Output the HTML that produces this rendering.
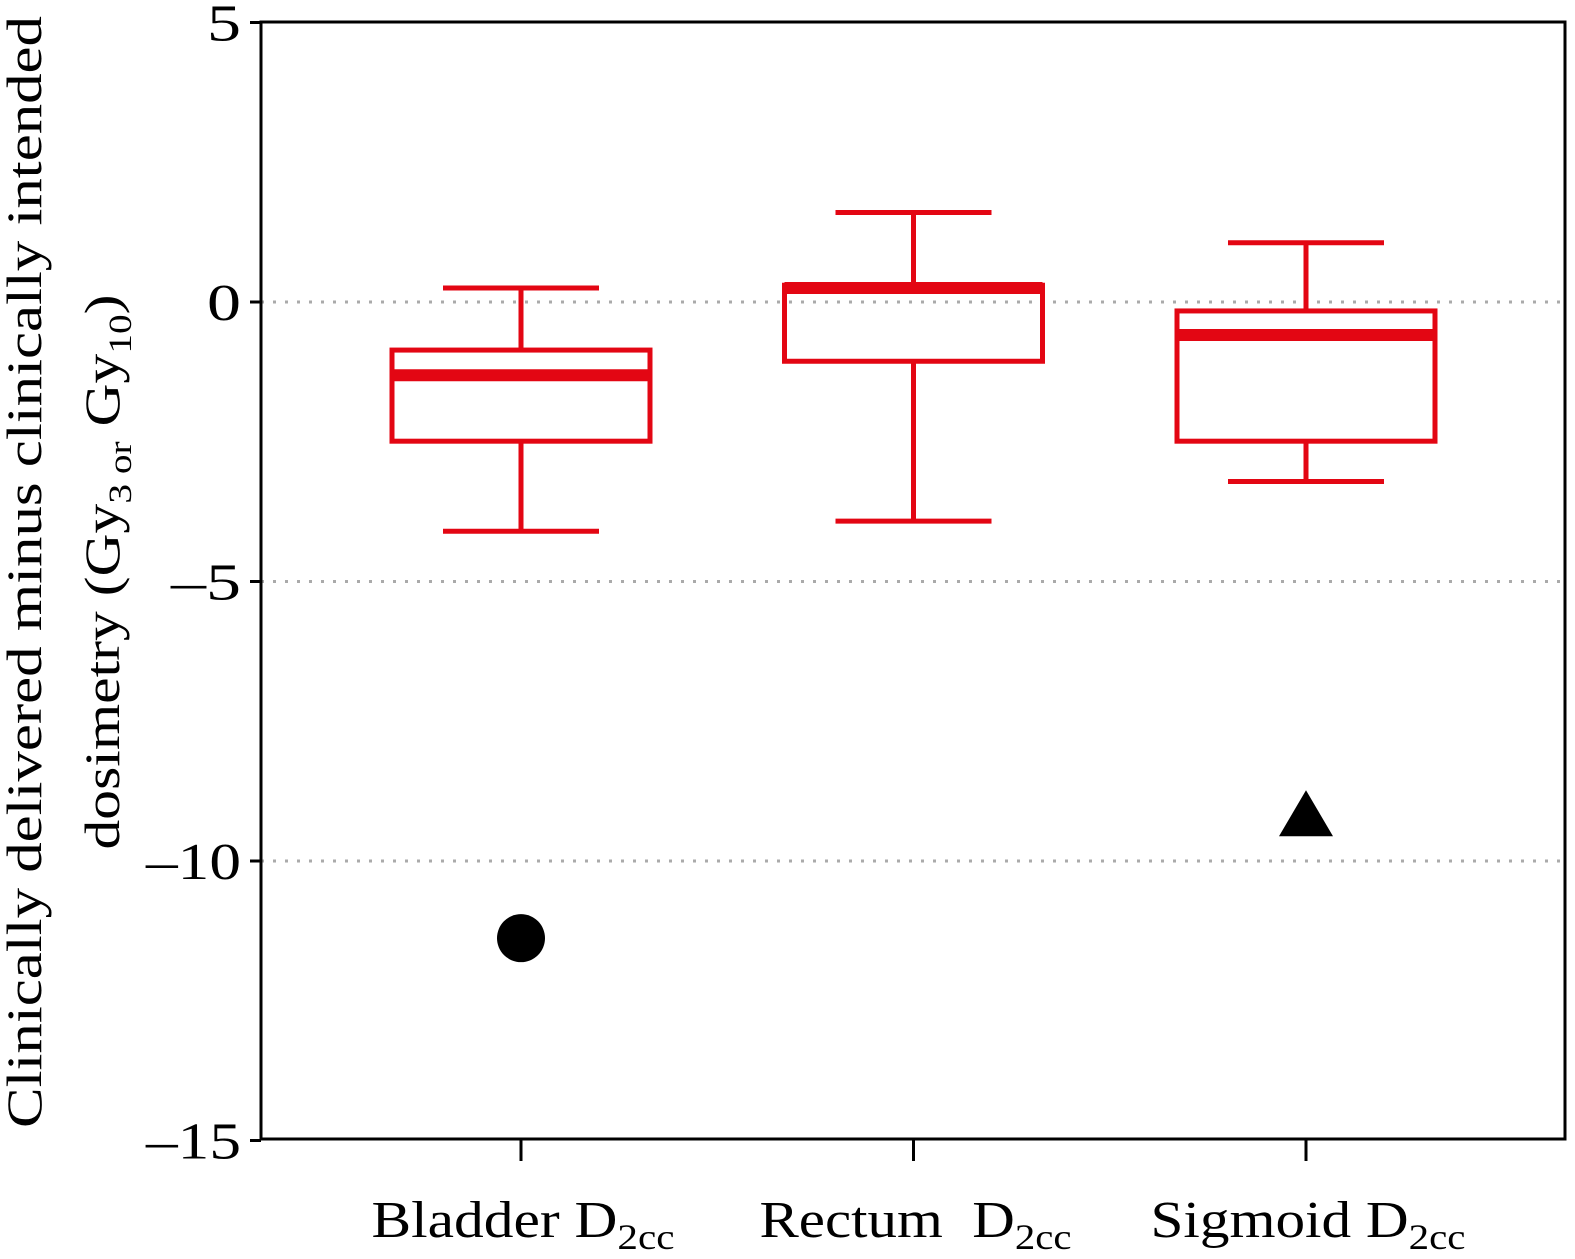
<!DOCTYPE html>
<html><head><meta charset="utf-8"><style>
body{margin:0;background:#fff}
svg{display:block;font-family:"Liberation Serif",serif}
</style></head><body>
<svg width="1575" height="1259" viewBox="0 0 1575 1259">
<g id="grid"></g>
<g id="boxes"></g>
<g id="axes"></g>
<text transform="translate(41,572) rotate(-90)" text-anchor="middle" font-size="50" textLength="1112" lengthAdjust="spacingAndGlyphs">Clinically delivered minus clinically intended</text>
<text transform="translate(119,572) rotate(-90)" text-anchor="middle" font-size="50" textLength="555" lengthAdjust="spacingAndGlyphs">dosimetry (Gy<tspan font-size="33" dy="12">3 or</tspan><tspan dy="-12"> Gy</tspan><tspan font-size="33" dy="12">10</tspan><tspan dy="-12">)</tspan></text>
</svg>
<script>
const categories=["Bladder","Rectum","Sigmoid"];
const whiskerHigh=[0.25,1.6,1.06];
const q3=[-0.86,0.3,-0.16];
const median=[-1.31,0.25,-0.59];
const q1=[-2.49,-1.06,-2.49];
const whiskerLow=[-4.1,-3.92,-3.21];
const outliers=[-11.38,null,-9.2];
const outlierShapes=["circle",null,"triangle"];
const yTicks=[5,0,-5,-10,-15];
const gridVals=[0,-5,-10];

const NS="http://www.w3.org/2000/svg";
const L=261,R=1565,T=22,B=1139;
const y=v=>302-v*55.9;
const xc=i=>521+i*392.5;
function mk(tag,attrs,parent){const e=document.createElementNS(NS,tag);for(const k in attrs)e.setAttribute(k,attrs[k]);parent.appendChild(e);return e;}
const grid=document.getElementById('grid'),boxes=document.getElementById('boxes'),axes=document.getElementById('axes');
gridVals.forEach(v=>{const e=mk('line',{x1:L,x2:R,y1:y(v),y2:y(v),stroke:'#aaa','stroke-width':3,'stroke-dasharray':'3,9'},grid);

});
const red='#e30613';
const labW=[303,312,315];
categories.forEach((c,i)=>{
 const x=xc(i),g=mk('g',{},boxes);
 
 
 mk('line',{x1:x,x2:x,y1:y(whiskerHigh[i]),y2:y(q3[i]),stroke:red,'stroke-width':5},g);
 mk('line',{x1:x,x2:x,y1:y(q1[i]),y2:y(whiskerLow[i]),stroke:red,'stroke-width':5},g);
 mk('line',{x1:x-78,x2:x+78,y1:y(whiskerHigh[i]),y2:y(whiskerHigh[i]),stroke:red,'stroke-width':5},g);
 mk('line',{x1:x-78,x2:x+78,y1:y(whiskerLow[i]),y2:y(whiskerLow[i]),stroke:red,'stroke-width':5},g);
 mk('rect',{x:x-129,y:y(q3[i]),width:258,height:y(q1[i])-y(q3[i]),fill:'none',stroke:red,'stroke-width':5},g);
 mk('line',{x1:x-129,x2:x+129,y1:y(median[i]),y2:y(median[i]),stroke:red,'stroke-width':12},g);
 if(outliers[i]!==null){
  const oy=y(outliers[i]);let o;
  if(outlierShapes[i]==='circle')o=mk('circle',{cx:x,cy:oy,r:24,fill:'#000'},g);
  else o=mk('polygon',{points:`${x},${oy-26} ${x+27},${oy+20} ${x-27},${oy+20}`,fill:'#000'},g);
  
  
 }
 const t=mk('line',{x1:x,x2:x,y1:B,y2:B+22,stroke:'#000','stroke-width':3},axes);
 
 
 const lab=mk('text',{x:x-labW[i]/2+2,y:1237,'font-size':52,textLength:labW[i],lengthAdjust:'spacingAndGlyphs'},axes);
 
 
 lab.innerHTML=c+(i===1?'&#160;&#160;':' ')+'D<tspan font-size="36" dy="12">2cc</tspan>';
});
const frame=mk('rect',{x:L,y:T,width:R-L,height:B-T,fill:'none',stroke:'#000','stroke-width':3},axes);


yTicks.forEach(v=>{
 const t=mk('line',{x1:L-11,x2:L,y1:y(v),y2:y(v),stroke:'#000','stroke-width':3},axes);
 
 
 const s=v<0?'\u2013'+(-v):String(v);
 const w=s.length===1?34:(s.length===2?70:95);
 const lab=mk('text',{x:L-20-w,y:y(v)+18,'font-size':52,textLength:w,lengthAdjust:'spacingAndGlyphs'},axes);
 
 
 lab.textContent=s;
});
</script>
</body></html>
